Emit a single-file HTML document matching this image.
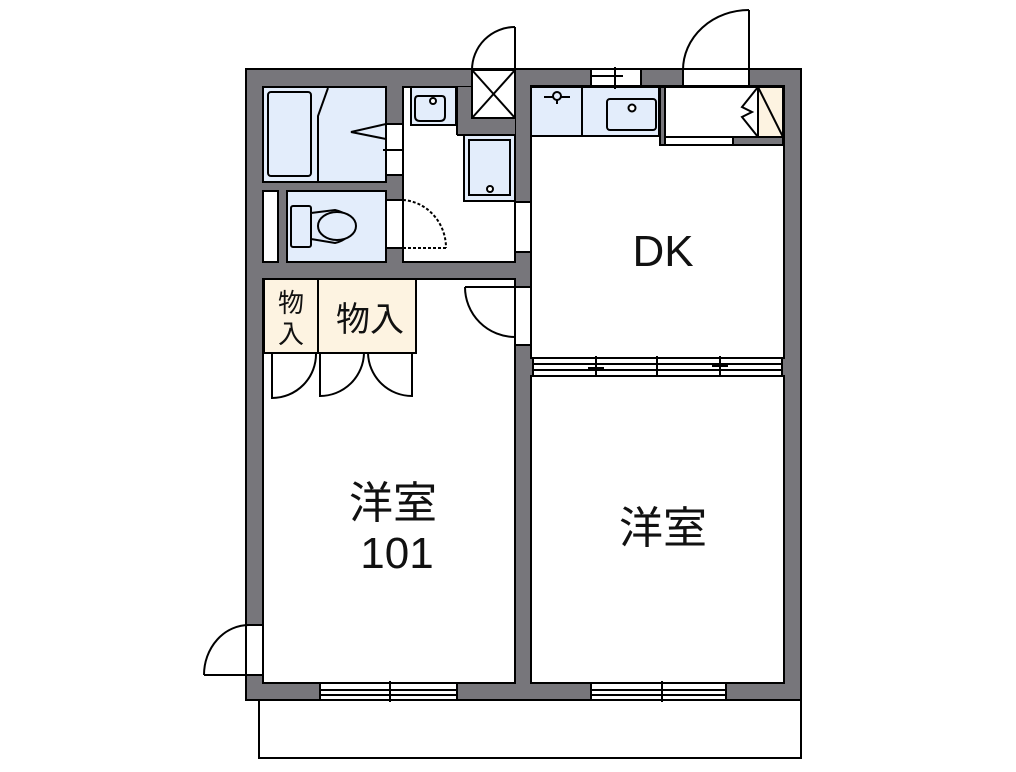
<!DOCTYPE html>
<html><head><meta charset="utf-8"><style>
html,body{margin:0;padding:0;background:#fff;}
svg{display:block;}
text{font-family:"Liberation Sans","Noto Sans CJK JP",sans-serif;fill:#111;}
</style></head><body>
<svg width="1016" height="772" viewBox="0 0 1016 772" xmlns="http://www.w3.org/2000/svg" stroke-linecap="butt">
<rect x="259" y="700" width="542" height="58" fill="#fff" stroke="#000" stroke-width="2"/>
<rect x="246" y="69" width="555" height="631" fill="#77767b" stroke="#000" stroke-width="2"/>
<g stroke="#000" stroke-width="2">
<rect x="263" y="87" width="123" height="95" fill="#e3edfb"/>
<rect x="268" y="92" width="43" height="84" rx="3" fill="#e3edfb"/>
<polyline points="328,88 318,116 318,181" fill="none"/>
<polyline points="386,124 351,132 386,139" fill="none"/>
<rect x="386" y="124" width="17" height="51" fill="#fff"/>
<line x1="383" y1="150" x2="405" y2="150"/>
<rect x="263" y="191" width="15" height="71" fill="#fff"/>
<rect x="287" y="191" width="99" height="71" fill="#e3edfb"/>
<rect x="291" y="206" width="20" height="41" rx="2" fill="#e3edfb"/>
<path d="M311,213 L335,210 A22,17 0 0 1 335,243 L311,239 Z" fill="#e3edfb"/>
<ellipse cx="337" cy="226" rx="19" ry="14" fill="#e3edfb"/>
<rect x="386" y="200" width="17" height="48" fill="#fff"/>
<rect x="403" y="87" width="112" height="175" fill="#fff"/>
<rect x="411" y="87" width="45" height="38" fill="#e3edfb"/>
<path d="M418,96 h24 q3,0 3,4 l0,16 q0,5 -5,5 h-20 q-5,0 -5,-5 l0,-16 q0,-4 3,-4z" fill="#e3edfb"/>
<circle cx="433" cy="101" r="3" fill="#fff"/>
<polygon points="457,87 472,87 472,118 515,118 515,135 457,135" fill="#77767b" stroke="none"/>
<line x1="457" y1="87" x2="457" y2="135"/>
<line x1="457" y1="135" x2="515" y2="135"/>
<rect x="464" y="135" width="51" height="66" fill="#e3edfb"/>
<rect x="469" y="140" width="41" height="55" fill="#e3edfb"/>
<circle cx="490" cy="189" r="3" fill="#fff"/>
<path d="M403,200 A46,48 0 0 1 446,248" fill="none" stroke-dasharray="3,2"/>
<line x1="403" y1="248" x2="446" y2="248" stroke-dasharray="3,2"/>
<rect x="472" y="70" width="43" height="48" fill="#fff"/>
<line x1="472" y1="70" x2="515" y2="118"/><line x1="515" y1="70" x2="472" y2="118"/>
<line x1="515" y1="27" x2="515" y2="70"/>
<path d="M515,27 A43,43 0 0 0 472,70" fill="none"/>
<rect x="531" y="86" width="253" height="272" fill="#fff"/>
<rect x="531" y="87" width="128" height="49" fill="#e3edfb"/>
<line x1="582" y1="87" x2="582" y2="136"/>
<line x1="544" y1="97" x2="570" y2="97"/>
<circle cx="557" cy="96" r="4" fill="#e3edfb"/>
<line x1="557" y1="100" x2="557" y2="104"/>
<rect x="607" y="99" width="49" height="31" rx="3" fill="#e3edfb"/>
<circle cx="632" cy="108" r="3.5" fill="#fff"/>
<rect x="660" y="87" width="5" height="58" fill="#77767b"/>
<rect x="665" y="87" width="93" height="50" fill="#fff"/>
<polygon points="758,87 783,87 783,137 758,137" fill="#fdf3e1"/>
<line x1="758" y1="87" x2="783" y2="137"/>
<polyline points="758,87 742,107 752,112 742,117 758,137" fill="none"/>
<rect x="665" y="137" width="68" height="8" fill="#fff"/>
<rect x="733" y="137" width="50" height="8" fill="#77767b"/>
<rect x="591" y="69" width="50" height="17" fill="#fff"/>
<line x1="591" y1="76" x2="623" y2="76"/><line x1="615" y1="67" x2="615" y2="89"/>
<rect x="683" y="69" width="66" height="17" fill="#fff"/>
<line x1="749" y1="10" x2="749" y2="69"/>
<path d="M749,10 A66,60 0 0 0 683,70" fill="none"/>
<rect x="515" y="202" width="16" height="50" fill="#fff"/>
<rect x="515" y="287" width="16" height="58" fill="#fff"/>
<rect x="533" y="358" width="249" height="18" fill="#fff"/>
<line x1="533" y1="364" x2="782" y2="364"/><line x1="533" y1="370" x2="782" y2="370"/>
<line x1="596" y1="356" x2="596" y2="378"/><line x1="657" y1="356" x2="657" y2="378"/><line x1="720" y1="356" x2="720" y2="378"/>
<line x1="588" y1="368" x2="604" y2="368"/><line x1="712" y1="366" x2="728" y2="366"/>
<rect x="531" y="376" width="253" height="307" fill="#fff"/>
<rect x="263" y="279" width="252" height="404" fill="#fff"/>
<rect x="264" y="279" width="54" height="74" fill="#fdf3e1"/>
<rect x="318" y="279" width="98" height="74" fill="#fdf3e1"/>
<path d="M272,353 L272,398 A44,44 0 0 0 316,353" fill="none"/>
<path d="M320,353 L320,396 A44,44 0 0 0 364,353" fill="none"/>
<path d="M412,353 L412,396 A44,44 0 0 1 368,353" fill="none"/>
<line x1="515" y1="287" x2="465" y2="287"/>
<path d="M465,287 A50,50 0 0 0 515,337" fill="none"/>
<rect x="246" y="625" width="17" height="50" fill="#fff"/>
<line x1="204" y1="675" x2="263" y2="675"/>
<path d="M204,675 A45,50 0 0 1 249,625" fill="none"/>
<rect x="320" y="683" width="137" height="17" fill="#fff"/>
<line x1="320" y1="690" x2="457" y2="690"/><line x1="320" y1="695" x2="457" y2="695"/>
<line x1="390" y1="681" x2="390" y2="702"/><line x1="382" y1="690" x2="400" y2="690"/>
<rect x="591" y="683" width="135" height="17" fill="#fff"/>
<line x1="591" y1="690" x2="726" y2="690"/><line x1="591" y1="695" x2="726" y2="695"/>
<line x1="662" y1="681" x2="662" y2="702"/>
</g>
<text x="663" y="266" font-size="44" text-anchor="middle">DK</text>
<text x="393" y="518" font-size="44" text-anchor="middle">洋室</text>
<text x="397" y="568" font-size="44" text-anchor="middle">101</text>
<text x="663" y="543" font-size="44" text-anchor="middle">洋室</text>
<text x="370" y="331" font-size="34" text-anchor="middle">物入</text>
<text x="291" y="312" font-size="26" text-anchor="middle">物</text>
<text x="291" y="343" font-size="26" text-anchor="middle">入</text>
</svg>
</body></html>
